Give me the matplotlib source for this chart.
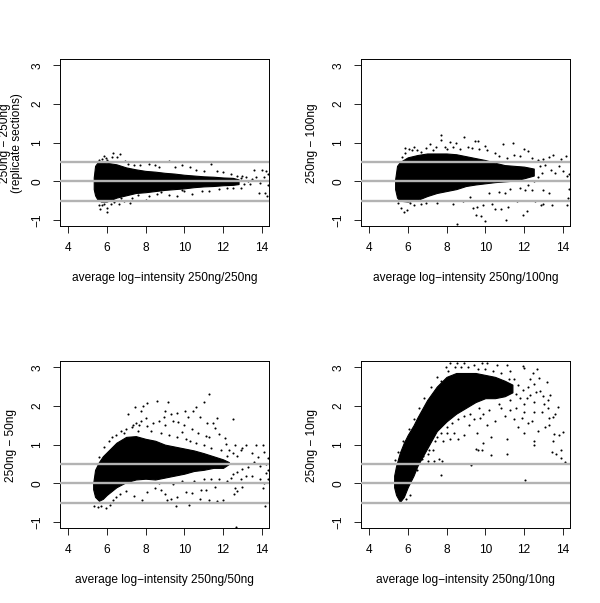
import matplotlib
matplotlib.use('Agg')
import matplotlib.pyplot as plt

plt.rcParams['font.family'] = ['Liberation Sans', 'DejaVu Sans']

# dense part of each cloud: x, upper edge, lower edge
env_x_1 = [5.33, 5.4, 5.5, 5.7, 6, 6.5, 7, 7.5, 8, 8.5, 9, 9.5, 10, 10.5, 11, 11.5, 12, 12.5, 12.8]
env_top_1 = [0.1, 0.4, 0.47, 0.5, 0.48, 0.44, 0.36, 0.31, 0.27, 0.25, 0.22, 0.2, 0.17, 0.15, 0.13, 0.12, 0.1, 0.09, 0.05]
env_low_1 = [-0.2, -0.36, -0.45, -0.52, -0.52, -0.42, -0.36, -0.3, -0.28, -0.25, -0.22, -0.2, -0.18, -0.15, -0.13, -0.12, -0.1, -0.09, -0.07]

env_x_2 = [5.35, 5.45, 5.6, 6, 6.5, 7, 7.5, 8, 8.5, 9, 9.5, 10, 10.5, 11, 11.5, 12, 12.5]
env_top_2 = [0.05, 0.4, 0.5, 0.62, 0.68, 0.72, 0.72, 0.72, 0.7, 0.65, 0.6, 0.55, 0.48, 0.42, 0.4, 0.38, 0.33]
env_low_2 = [-0.2, -0.42, -0.5, -0.52, -0.48, -0.38, -0.3, -0.25, -0.2, -0.12, -0.08, -0.05, -0.02, 0.0, 0.02, 0.08, 0.15]

env_x_3 = [5.3, 5.4, 5.6, 5.8, 6, 6.5, 7, 7.5, 8, 8.5, 9, 9.5, 10, 10.5, 11, 11.5, 12, 12.3]
env_top_3 = [0.0, 0.35, 0.55, 0.7, 0.8, 1.05, 1.2, 1.22, 1.15, 1.1, 1.0, 0.95, 0.9, 0.85, 0.78, 0.7, 0.62, 0.55]
env_low_3 = [-0.15, -0.35, -0.45, -0.4, -0.3, -0.1, 0.03, 0.1, 0.12, 0.1, 0.15, 0.2, 0.25, 0.32, 0.35, 0.4, 0.4, 0.5]

env_x_4 = [5.3, 5.4, 5.6, 5.8, 6, 6.3, 6.5, 7, 7.5, 8, 8.5, 9, 9.5, 10, 10.5, 11, 11.4]
env_top_4 = [0.2, 0.45, 0.8, 1.05, 1.25, 1.5, 1.7, 2.15, 2.5, 2.75, 2.85, 2.85, 2.85, 2.8, 2.75, 2.65, 2.55]
env_low_4 = [-0.1, -0.3, -0.48, -0.35, -0.1, 0.2, 0.45, 0.9, 1.35, 1.6, 1.8, 1.95, 2.1, 2.2, 2.2, 2.25, 2.35]

# single points outside the dense part
pts_1 = [(5.6, 0.56), (5.75, 0.58), (5.85, 0.66), (5.95, 0.6), (6.0, 0.56), (6.3, 0.73), (6.25, 0.62), (6.7, 0.7), (6.55, 0.62),
         (6.95, 0.52), (7.1, 0.46), (7.4, 0.42), (7.7, 0.42), (8.2, 0.45), (8.5, 0.42), (8.7, 0.38), (9.2, 0.53), (9.5, 0.38),
         (9.9, 0.42), (10.3, 0.38), (10.6, 0.3), (11.4, 0.44), (11.0, 0.26), (11.7, 0.27), (12.0, 0.24), (12.4, 0.2),
         (12.7, 0.14), (12.9, 0.08), (13.0, 0.14), (13.2, 0.1), (13.3, 0.02), (13.5, 0.06), (13.6, 0.3), (13.7, 0.12),
         (13.9, -0.04), (14.0, 0.3), (14.1, 0.1), (14.2, 0.28), (14.3, 0.2), (14.3, -0.1), (14.15, -0.3), (14.25, -0.37),
         (13.85, -0.3), (13.4, -0.08), (13.1, -0.08), (12.9, -0.16), (12.5, -0.16), (12.2, -0.18), (11.8, -0.2), (11.3, -0.26),
         (10.9, -0.25), (10.4, -0.32), (10.0, -0.26), (9.6, -0.38), (9.2, -0.34), (8.6, -0.33), (8.2, -0.38), (8.0, -0.48),
         (7.3, -0.42), (7.2, -0.56), (6.9, -0.5), (6.65, -0.58), (6.4, -0.54), (6.2, -0.58), (6.0, -0.68), (6.0, -0.78),
         (5.75, -0.62), (5.65, -0.72), (5.6, -0.6), (5.85, -0.58), (6.75, -0.44), (7.6, -0.34), (8.8, -0.27), (9.9, -0.22)]
pts_2 = [(5.7, 0.62), (5.85, 0.72), (5.85, 0.86), (6.05, 0.84), (6.2, 0.8), (6.3, 0.88), (6.5, 0.82), (6.7, 0.76), (6.95, 0.86),
         (7.15, 0.96), (7.3, 0.82), (7.45, 0.88), (7.7, 1.2), (7.7, 1.06), (7.9, 0.9), (8.0, 0.84), (8.2, 1.02), (8.35, 0.88),
         (8.5, 0.98), (8.7, 0.84), (8.9, 1.14), (9.1, 0.9), (9.3, 0.86), (9.45, 1.04), (9.65, 1.04), (9.7, 0.84), (10.0, 0.92),
         (10.1, 0.8), (10.5, 0.72), (10.9, 0.97), (10.7, 0.66), (11.1, 0.6), (11.45, 1.0), (11.5, 0.68), (11.8, 0.66),
         (12.0, 0.83), (12.2, 0.78), (12.4, 0.6), (12.7, 0.55), (13.0, 0.58), (13.3, 0.62), (13.5, 0.68), (13.9, 0.58),
         (14.15, 0.66), (12.8, 0.4), (13.1, 0.42), (13.4, 0.3), (13.6, 0.22), (13.8, 0.4), (14.0, 0.26), (14.2, 0.14), (14.3, 0.2),
         (12.9, 0.22), (12.7, 0.1), (12.5, 0.0), (12.4, -0.22), (12.2, -0.1), (12.05, -0.22), (11.8, -0.18), (11.65, -0.5),
         (12.55, -0.5), (13.0, -0.22), (13.3, -0.3), (13.0, -0.58), (13.45, -0.6), (14.2, -0.62), (14.25, -0.42), (14.3, -0.2),
         (12.85, -0.6), (12.15, -0.76), (11.95, -0.87), (11.15, -0.66), (11.05, -1.0), (10.8, -0.72), (10.5, -0.72),
         (10.0, -1.03), (9.8, -0.9), (9.5, -0.86), (9.55, -0.65), (9.9, -0.6), (9.35, -0.68), (10.35, -0.58), (8.55, -1.11),
         (8.35, -0.58), (8.85, -0.52), (9.2, -0.4), (10.2, -0.3), (10.7, -0.28), (11.0, -0.3), (11.3, -0.2), (7.5, -0.56),
         (6.95, -0.55), (6.7, -0.58), (6.3, -0.62), (5.95, -0.75), (5.8, -0.78), (5.65, -0.68), (6.1, -0.56), (5.5, -0.56)]
pts_3 = [(5.35, -0.58), (5.55, -0.6), (5.7, -0.58), (5.95, -0.64), (6.15, -0.55), (6.3, -0.42), (6.5, -0.36), (6.7, -0.28),
         (7.0, -0.2), (7.4, -0.32), (7.8, -0.42), (8.1, -0.22), (8.5, -0.12), (8.8, -0.16), (9.0, -0.28), (9.1, -0.44), (9.3, -0.4),
         (9.65, -0.34), (9.55, -0.58), (10.25, -0.57), (10.1, -0.22), (10.4, -0.26), (10.8, -0.4), (10.85, -0.18), (11.1, -0.16),
         (11.3, -0.42), (11.6, -0.1), (11.7, -0.45), (12.0, -0.44), (12.6, -0.12), (12.55, -0.28), (12.7, -0.2), (13.0, -0.1),
         (14.05, -0.12), (14.15, -0.58), (12.67, -1.13), (14.1, 0.0), (14.3, 0.1), (14.2, 0.28), (14.3, 0.35), (13.9, 0.12),
         (13.5, 0.2), (13.2, 0.18), (12.9, 0.1), (12.4, 0.15), (12.2, 0.05), (11.8, 0.12), (11.4, 0.1), (11.0, 0.1), (10.5, 0.05),
         (9.9, 0.05), (9.4, -0.02), (8.7, 0.0), (14.2, 0.5), (13.9, 0.45), (13.6, 0.55), (13.3, 0.42), (13.0, 0.36), (12.7, 0.3),
         (12.5, 0.25), (14.3, 0.66), (14.1, 0.82), (14.05, 0.98), (13.7, 0.98), (13.2, 0.98), (13.0, 0.92), (12.9, 0.85),
         (12.6, 1.0), (13.5, 0.78), (13.8, 0.68), (12.5, 0.78), (12.3, 0.85), (12.15, 1.02), (12.1, 1.18), (12.5, 1.65),
         (11.3, 2.3), (11.0, 2.1), (10.6, 1.98), (10.45, 1.88), (10.05, 1.86), (10.2, 1.72), (9.6, 1.82), (9.15, 2.1), (8.6, 2.12),
         (8.1, 2.08), (7.85, 2.0), (7.45, 1.98), (7.1, 1.8), (7.75, 1.88), (8.0, 1.7), (9.3, 1.78), (9.0, 1.86), (8.95, 1.72),
         (10.8, 1.72), (11.15, 1.55), (11.5, 1.55), (11.7, 1.68), (11.6, 1.42), (11.8, 1.28), (11.3, 1.2), (11.1, 1.22),
         (10.7, 1.3), (10.4, 1.4), (10.0, 1.5), (9.7, 1.58), (9.4, 1.6), (9.0, 1.5), (8.7, 1.62), (8.4, 1.55), (8.1, 1.48),
         (7.75, 1.62), (7.5, 1.55), (7.3, 1.45), (7.0, 1.4), (6.75, 1.35), (6.5, 1.25), (6.25, 1.2), (6.1, 1.1), (5.85, 0.95),
         (5.6, 0.68), (6.9, 1.3), (7.6, 1.35), (8.3, 1.35), (8.8, 1.3), (9.2, 1.25), (9.6, 1.2), (10.1, 1.15), (10.6, 1.05),
         (11.0, 0.98), (11.4, 0.92), (11.9, 0.85), (12.2, 0.7), (12.7, 0.7), (9.9, 1.32), (10.3, 1.1), (7.35, 1.5), (7.65, 1.5)]
pts_4 = [(11.96, 3.03), (12.02, 2.97), (12.68, 2.95), (12.45, 2.86), (12.33, 2.69), (12.76, 2.73), (13.2, 2.62), (12.5, 2.56),
         (12.8, 2.38), (13.36, 2.28), (12.3, 2.28), (13.25, 2.15), (13.05, 2.05), (13.74, 1.97), (13.25, 1.95), (12.9, 1.85),
         (13.6, 1.78), (13.5, 1.72), (12.5, 1.85), (12.5, 2.1), (12.15, 2.2), (11.95, 2.4), (11.7, 2.55), (12.2, 2.5), (11.5, 2.7),
         (11.1, 3.05), (11.25, 2.9), (10.6, 3.05), (10.1, 3.1), (9.85, 3.12), (9.4, 3.05), (8.9, 3.12), (8.55, 3.1), (8.2, 3.1),
         (7.95, 3.0), (7.5, 2.75), (7.2, 2.5), (6.85, 2.2), (6.6, 1.95), (6.3, 1.65), (6.05, 1.4), (5.75, 1.1), (5.5, 0.8), (5.35, 0.6),
         (13.3, 1.7), (13.1, 1.45), (13.5, 1.1), (13.55, 1.28), (13.8, 1.25), (14.0, 1.32), (13.45, 0.8), (13.65, 0.75), (13.9, 0.85),
         (13.9, 0.65), (14.1, 0.55), (12.5, 1.0), (12.5, 1.1), (12.7, 1.35), (12.2, 1.55), (12.0, 1.85), (11.9, 1.7), (11.7, 1.45),
         (11.5, 1.65), (11.3, 1.9), (11.1, 1.15), (11.0, 1.75), (10.8, 1.95), (10.5, 1.6), (10.3, 1.2), (10.1, 1.5), (9.9, 1.05),
         (9.75, 1.7), (9.55, 1.3), (9.9, 1.8), (9.4, 1.65), (9.15, 1.5), (8.9, 1.25), (8.6, 1.15), (8.4, 1.3), (8.2, 1.15), (8.0, 1.3),
         (7.8, 1.1), (7.5, 1.2), (7.3, 0.85), (7.05, 0.75), (6.75, 0.62), (6.35, 0.45), (9.6, 0.87), (9.5, 0.9), (9.85, 0.85),
         (10.3, 0.72), (11.1, 0.76), (7.35, 0.58), (7.6, 0.62), (7.75, 0.57), (7.05, 0.57), (9.25, 0.47), (7.7, 0.22), (12.05, 0.08),
         (6.1, -0.3), (5.9, -0.4), (11.6, 2.3), (11.8, 2.2), (12.0, 2.05), (12.6, 2.35), (13.0, 2.25), (12.4, 1.6), (13.3, 1.5),
         (12.0, 1.3), (11.6, 1.95), (11.3, 2.15), (10.7, 2.05), (10.2, 1.9), (9.7, 1.95), (9.2, 1.8), (8.9, 1.75), (8.6, 1.65),
         (8.3, 1.55), (8.0, 1.45), (7.7, 1.3), (7.4, 1.1), (7.1, 0.85), (6.8, 0.7), (6.5, 0.35), (7.7, 2.65), (8.1, 2.9), (8.45, 3.0),
         (8.75, 3.0), (9.1, 3.0), (9.6, 2.95), (10.0, 2.95), (10.4, 2.9), (10.8, 2.85), (11.2, 2.7)]

ylabels = ['250ng \u2212 250ng\n(replicate sections)', '250ng \u2212 100ng', '250ng \u2212 50ng', '250ng \u2212 10ng']
xlabels = ['average log\u2212intensity 250ng/250ng', 'average log\u2212intensity 250ng/100ng',
           'average log\u2212intensity 250ng/50ng', 'average log\u2212intensity 250ng/10ng']
clouds = [(env_x_1, env_top_1, env_low_1, pts_1), (env_x_2, env_top_2, env_low_2, pts_2),
          (env_x_3, env_top_3, env_low_3, pts_3), (env_x_4, env_top_4, env_low_4, pts_4)]
hlines = [-0.5, 0, 0.5]
xticks = [4, 6, 8, 10, 12, 14]
yticks = [-1, 0, 1, 2, 3]

W, H = 600, 603
# pixel boxes of the panels: left, top, right, bottom
boxes = [(60, 59, 269, 225.5), (361, 59, 570, 225.5), (60, 361, 269, 527.5), (361, 361, 570, 527.5)]

fig = plt.figure(figsize=(W / 100, H / 100), dpi=100)
for i in range(4):
    l, t, r, b = boxes[i]
    ax = fig.add_axes([l / W, 1 - b / H, (r - l) / W, (b - t) / H])
    ex, et, el, pts = clouds[i]
    ax.fill_between(ex, el, et, color='black', lw=0.8, zorder=1)
    ax.plot([p[0] for p in pts], [p[1] for p in pts], ls='none', marker='o', ms=1.5, mew=0, color='black', zorder=2)
    for h in hlines:
        ax.axhline(h, color='#b3b3b3', lw=1.7, zorder=3)
    ax.set_xlim(3.59, 14.37)
    ax.set_ylim(-1.14, 3.16)
    ax.set_xticks(xticks)
    ax.set_yticks(yticks)
    ax.tick_params(axis='both', length=5, width=0.6, labelsize=8.6, pad=7)
    ax.tick_params(axis='y', labelrotation=90)
    for lab in ax.get_yticklabels():
        lab.set_va('center')
    for s in ax.spines.values():
        s.set_linewidth(0.7)
    fig.text((l + r) / 2 / W, 1 - (b + 52) / H, xlabels[i], ha='center', va='center', fontsize=8.6)
    fig.text((l - 49) / W, 1 - (t + b + 2) / 2 / H, ylabels[i], rotation=90, ha='center', va='center',
             fontsize=8.6, linespacing=1.1)

fig.savefig('out.png', dpi=100)
